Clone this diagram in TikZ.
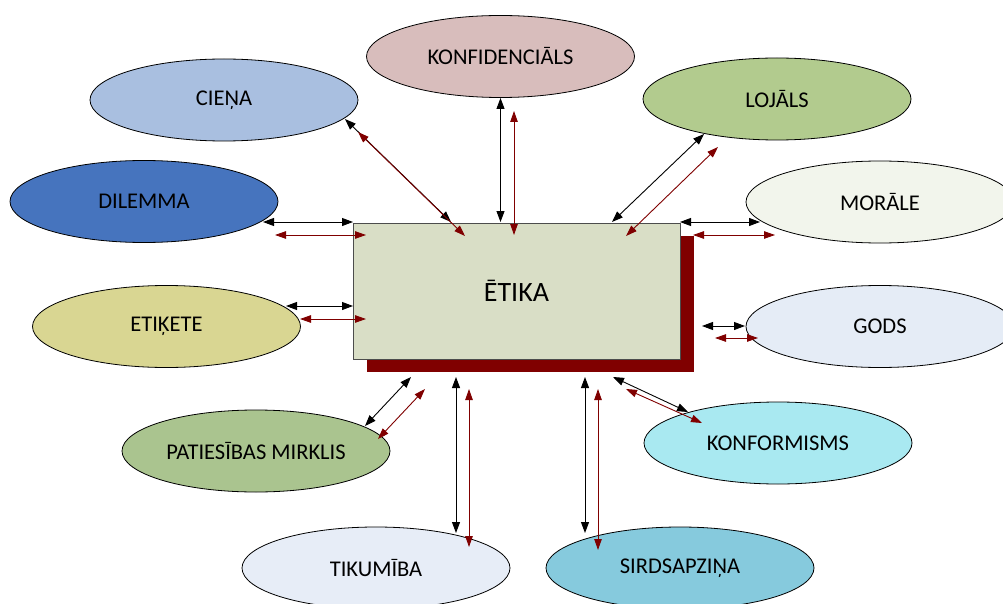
\documentclass[tikz,border=0pt]{standalone}
\usepackage{fontspec}
\setmainfont{Carlito}
\usetikzlibrary{shapes.geometric,arrows.meta}
\definecolor{darkred}{HTML}{800000}
\definecolor{boxfill}{HTML}{D9DEC6}
\definecolor{cCiena}{HTML}{A9BFE0}
\definecolor{cKonf}{HTML}{D8BDBC}
\definecolor{cLojals}{HTML}{B2CB8E}
\definecolor{cDilemma}{HTML}{4674BE}
\definecolor{cMorale}{HTML}{F2F5EC}
\definecolor{cEtikete}{HTML}{D9D692}
\definecolor{cGods}{HTML}{E5ECF6}
\definecolor{cPatiesibas}{HTML}{AAC48F}
\definecolor{cKonform}{HTML}{A9E9F1}
\definecolor{cTikumiba}{HTML}{E7EDF7}
\definecolor{cSirds}{HTML}{86CADD}
\tikzset{
  topic/.style={ellipse, draw=black, line width=0.8pt, minimum width=268pt,
    minimum height=82pt, inner sep=0pt, font=\fontsize{22.5}{26}\selectfont},
  blk/.style={line width=0.9pt, black,
    {Triangle[length=11pt,width=8pt]}-{Triangle[length=11pt,width=8pt]}},
  red/.style={line width=0.9pt, darkred,
    {Triangle[length=11pt,width=7.5pt]}-{Triangle[length=11pt,width=7.5pt]}},
}
\begin{document}
\begin{tikzpicture}[x=1pt,y=-1pt]
\useasboundingbox[fill=white] (0,0) rectangle (1003,604);

% central box with its dark shadow
\fill[darkred] (367,236) rectangle (694,372);
\node[draw=black!70, line width=1pt, fill=boxfill, minimum width=327pt,
  minimum height=136pt, inner sep=0pt, font=\fontsize{28}{32}\selectfont]
  (etika) at (516.5,291) {ĒTIKA};

% surrounding topics
\node[topic, fill=cCiena]      (ciena)  at (224,100)   {CIEŅA};
\node[topic, fill=cKonf]       (konf)   at (500.5,56.5){KONFIDENCIĀLS};
\node[topic, fill=cLojals]     (lojals) at (777,99)    {LOJĀLS};
\node[topic, fill=cDilemma]    (dil)    at (144,201.5) {DILEMMA};
\node[topic, fill=cMorale]     (mor)    at (880,202)   {MORĀLE};
\node[topic, fill=cEtikete]    (etik)   at (166.5,326.5){ETIĶETE};
\node[topic, fill=cGods]       (gods)   at (880,326.5) {GODS};
\node[topic, fill=cPatiesibas] (pat)    at (256,451)   {PATIESĪBAS MIRKLIS};
\node[topic, fill=cKonform]    (konfo)  at (778,443)   {KONFORMISMS};
\node[topic, fill=cTikumiba]   (tik)    at (376,568)   {TIKUMĪBA};
\node[topic, fill=cSirds]      (sirds)  at (680,568)   {SIRDSAPZIŅA};

% paired links: black and dark red double arrows
\draw[blk] (345,119) -- (451,222);
\draw[red] (358,132) -- (465,236);

\draw[blk] (500.5,98) -- (500.5,222);
\draw[red] (514,111) -- (514,235);

\draw[blk] (704,134) -- (612,222);
\draw[red] (718,147) -- (626,236);

\draw[blk] (263,222) -- (353,222);
\draw[red] (275,235) -- (366,235);

\draw[blk] (680,222) -- (760,222);
\draw[red] (693,235) -- (775,235);

\draw[blk] (286,306) -- (353,306);
\draw[red] (300,319) -- (366,319);

\draw[blk] (702,326) -- (745,326);
\draw[red] (715,338) -- (758,338);

\draw[blk] (411,377) -- (365,426);
\draw[red] (425,389) -- (378,439);

\draw[blk] (456,377) -- (456,533);
\draw[red] (469,389) -- (469,547);

\draw[blk] (585,377) -- (585,533);
\draw[red] (598,389) -- (598,550);

\draw[blk] (613,377) -- (688,412);
\draw[red] (626,389) -- (702,423);
\end{tikzpicture}
\end{document}
